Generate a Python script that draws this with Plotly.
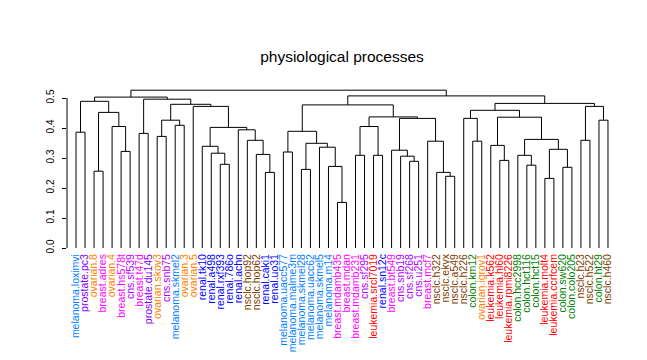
import plotly.graph_objects as go

# ---- data ----
labels = [
    "melanoma.loximvi", "prostate.pc3", "ovarian.8", "breast.adres", "ovarian.4",
    "breast.hs578t", "cns.sf539", "breast.t47d", "prostate.du145", "ovarian.skov3",
    "cns.snb75", "melanoma.skmel2", "ovarian.3", "ovarian.5", "renal.tk10",
    "renal.a498", "renal.rxf393", "renal.786o", "renal.achn", "nsclc.hop92",
    "nsclc.hop62", "renal.caki1", "renal.uo31", "melanoma.uacc577", "melanoma.malme3m",
    "melanoma.skmel28", "melanoma.uacc62", "melanoma.skmel5", "melanoma.m14", "breast.mdamb435",
    "breast.mdan", "breast.mdamb231", "cns.sf295", "leukemia.srcl7019", "renal.sn12c",
    "breast.bt549", "cns.snb19", "cns.sf268", "cns.u251", "breast.mcf7",
    "nsclc.h322", "nsclc.ekvx", "nsclc.a549", "nsclc.h226", "colon.km12",
    "ovarian.igrov1", "leukemia.k562", "leukemia.hl60", "leukemia.rpmi8226", "colon.hcc2998",
    "colon.hct116", "colon.hct15", "leukemia.molt4", "leukemia.ccrfcem", "colon.sw620",
    "colon.colo205", "nsclc.h23", "nsclc.h522", "colon.ht29", "nsclc.h460",
]

group_colors = {
    "melanoma": "#0080FF", "prostate": "#8000FF", "ovarian": "#FF8000",
    "breast": "#FF00FF", "cns": "#B000FF", "renal": "#0000FF",
    "nsclc": "#804000", "leukemia": "#FF0000", "colon": "#008000",
}

# hclust-style merges: negative = leaf (1-based position), positive = earlier merge
merge_left = [-1, -3, -6, -5, 2, 1, -8, -10, -12, 8, -17, -16, -15, -22, -21, -20, -19, 13, -14, 10,
              7, 6, -24, -26, -30, -29, -28, 24, 23, -32, -34, 30, -38, -37, -36, -42, -41, -40, 35, 32,
              29, -45, -44, -48, -47, -51, -50, -53, -55, 48, 47, 45, 43, -57, -59, 54, 53, 41, 22]
merge_right = [-2, -4, -7, 3, 4, 5, -9, -11, -13, 9, -18, 11, 12, -23, 14, 15, 16, 17, 18, 19,
               20, 21, -25, -27, -31, 25, 26, 27, 28, -33, -35, 31, -39, 33, 34, -43, 36, 37, 38, 39,
               40, -46, 42, -49, 44, -52, 46, -54, -56, 49, 50, 51, 52, -58, -60, 55, 56, 57, 58]
merge_height = [0.386, 0.256, 0.322, 0.405, 0.452, 0.489, 0.382, 0.372, 0.409, 0.426,
                0.279, 0.316, 0.339, 0.252, 0.312, 0.359, 0.394, 0.402, 0.472, 0.479,
                0.496, 0.503, 0.320, 0.262, 0.152, 0.272, 0.336, 0.349, 0.389, 0.309,
                0.309, 0.405, 0.289, 0.306, 0.326, 0.239, 0.252, 0.356, 0.432, 0.437,
                0.477, 0.356, 0.432, 0.292, 0.342, 0.276, 0.309, 0.232, 0.269, 0.329,
                0.362, 0.436, 0.459, 0.359, 0.426, 0.472, 0.482, 0.507, 0.526]

y_ticks = [0.0, 0.1, 0.2, 0.3, 0.4, 0.5]
y_tick_text = ["0.0", "0.1", "0.2", "0.3", "0.4", "0.5"]
title = "physiological processes"

# ---- build dendrogram segments ----
leaf_x = list(range(1, len(labels) + 1))
node_x, node_h = [], []


def child(c):
    if c < 0:
        return leaf_x[-c - 1], 0.0
    return node_x[c - 1], node_h[c - 1]


xs, ys = [], []
for l, r, h in zip(merge_left, merge_right, merge_height):
    xl, hl = child(l)
    xr, hr = child(r)
    xs += [xl, xl, xr, xr, None]
    ys += [hl, h, h, hr, None]
    node_x.append((xl + xr) / 2)
    node_h.append(h)

fig = go.Figure()
fig.add_trace(go.Scatter(x=xs, y=ys, mode="lines",
                         line=dict(color="black", width=1),
                         hoverinfo="skip", showlegend=False))

tick_text = [
    f"<span style='color:{group_colors[lab.split('.')[0]]}'>{lab}</span>" for lab in labels
]

# the page body adds an 8px offset, so the figure is 8px smaller and margins shifted
W, H = 639, 352
fig.update_layout(
    width=W, height=H,
    margin=dict(l=59, r=30, t=78, b=109, autoexpand=False),
    paper_bgcolor="white", plot_bgcolor="white",
    font=dict(family="Liberation Sans, Arial, sans-serif", color="black", size=10),
    title=dict(text=title, x=0.5, xref="paper", xanchor="center",
               y=1 - 49 / H, yref="container", yanchor="middle",
               font=dict(size=15.5, color="black")),
    showlegend=False,
    hovermode=False,
    xaxis=dict(range=[0, len(labels) + 1], tickmode="array", tickvals=leaf_x,
               ticktext=tick_text, tickangle=-90, ticks="", showgrid=False,
               zeroline=False, showline=False, automargin=False,
               tickfont=dict(size=10.5)),
    yaxis=dict(range=[-0.01, 0.54], tickmode="array", tickvals=y_ticks,
               ticktext=y_tick_text, tickangle=-90, ticks="outside", ticklen=4,
               tickcolor="black", showgrid=False, zeroline=False, showline=False,
               automargin=False, ticklabelstandoff=4, tickfont=dict(size=10)),
    shapes=[dict(type="line", xref="paper", x0=0, x1=0, yref="y",
                 y0=min(y_ticks), y1=max(y_ticks),
                 line=dict(color="black", width=1))],
)

fig.write_html("out.html")
